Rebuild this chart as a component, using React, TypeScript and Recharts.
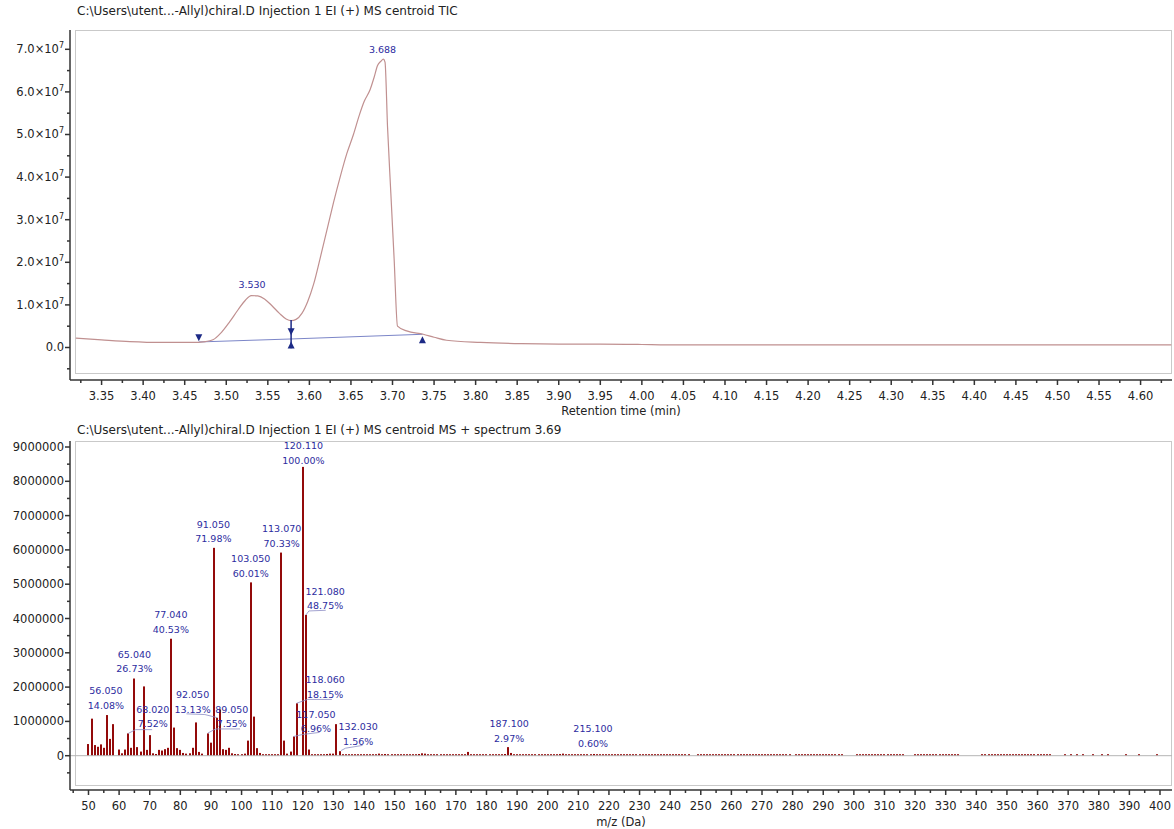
import React from 'react';
import { ComposedChart, Line, Bar, Scatter, XAxis, YAxis, ReferenceLine } from 'recharts';

const FONT = '"DejaVu Sans", Verdana, sans-serif';
const AXIS = '#333333';
const TEXT = '#222222';
const ANNOT = '#2c2ca0';
const TRACE = '#c09090';
const BAR = '#930a0a';

// ---- top panel: TIC trace ----
const ticTime = [
  3.319, 3.35, 3.384, 3.42, 3.458, 3.475, 3.484, 3.494, 3.504, 3.514,
  3.523, 3.53, 3.538, 3.546, 3.555, 3.564, 3.572, 3.578, 3.584, 3.591,
  3.598, 3.605, 3.613, 3.621, 3.629, 3.637, 3.645, 3.653, 3.66, 3.666,
  3.673, 3.678, 3.682, 3.686, 3.689, 3.691, 3.694, 3.698, 3.702, 3.706,
  3.717, 3.737, 3.75, 3.765, 3.806, 3.855, 3.9, 3.95, 4.0, 4.03,
  4.2, 4.4, 4.637,
];
const ticIntensity = [
  0.22e7, 0.18e7, 0.14e7, 0.12e7, 0.12e7, 0.14e7, 0.18e7, 0.35e7, 0.6e7, 0.88e7,
  1.11e7, 1.22e7, 1.21e7, 1.14e7, 0.98e7, 0.8e7, 0.67e7, 0.63e7, 0.66e7, 0.8e7,
  1.08e7, 1.48e7, 2.1e7, 2.75e7, 3.4e7, 4.0e7, 4.55e7, 5.0e7, 5.45e7, 5.78e7,
  6.05e7, 6.35e7, 6.62e7, 6.72e7, 6.77e7, 6.7e7, 5.19e7, 3.62e7, 2.06e7, 0.5e7,
  0.39e7, 0.31e7, 0.24e7, 0.17e7, 0.12e7, 0.09e7, 0.08e7, 0.08e7, 0.07e7, 0.06e7,
  0.06e7, 0.06e7, 0.06e7,
];

// integration baseline and its markers
const baseTime = [3.467, 3.578, 3.736];
const baseIntensity = [0.13e7, 0.2e7, 0.31e7];
const markTime = [3.467, 3.578, 3.578, 3.736];
const markLevel = [0.23e7, 0.37e7, 0.06e7, 0.18e7];
const markDir = ['down', 'down', 'up', 'up'];

const peakTime = [3.531, 3.688];
const peakLabelLevel = [1.47e7, 7.0e7];
const peakNames = ['3.530', '3.688'];

const ticYTicks = [0, 1e7, 2e7, 3e7, 4e7, 5e7, 6e7, 7e7];
const ticYLabels = ['0.0', '1.0', '2.0', '3.0', '4.0', '5.0', '6.0', '7.0'];
const ticXTicks = [
  3.35, 3.4, 3.45, 3.5, 3.55, 3.6, 3.65, 3.7, 3.75, 3.8, 3.85, 3.9, 3.95,
  4.0, 4.05, 4.1, 4.15, 4.2, 4.25, 4.3, 4.35, 4.4, 4.45, 4.5, 4.55, 4.6,
];
const ticXLabels = [
  '3.35', '3.40', '3.45', '3.50', '3.55', '3.60', '3.65', '3.70', '3.75', '3.80', '3.85', '3.90', '3.95',
  '4.00', '4.05', '4.10', '4.15', '4.20', '4.25', '4.30', '4.35', '4.40', '4.45', '4.50', '4.55', '4.60',
];

// ---- bottom panel: MS spectrum at 3.69 ----
const majorMz = [
  50, 51, 52, 53, 54, 55, 56, 57, 58,
  60, 61, 62, 63, 64, 65, 66, 67, 68, 69, 70,
  71, 72, 73, 74, 75, 76, 77, 78, 79, 80, 81, 82, 83, 84, 85, 86, 87,
  89, 90, 91, 92, 93, 94, 95, 96, 97, 98, 99, 100, 101, 102, 103, 104, 105,
  106, 107, 108, 109, 110, 111, 112, 113, 114, 115, 116, 117, 118,
  120, 121, 122, 123, 124, 125, 126, 127, 128, 129, 130, 131, 132, 133,
];
const majorIntensity = [
  340000, 1080000, 310000, 260000, 330000, 230000, 1185000, 490000, 920000,
  180000, 70000, 180000, 650000, 230000, 2250000, 250000, 120000, 2020000, 170000, 600000,
  70000, 50000, 170000, 150000, 190000, 230000, 3410000, 820000, 220000, 170000, 80000, 60000, 70000, 230000, 970000, 110000, 60000,
  650000, 380000, 6060000, 1106000, 1350000, 190000, 170000, 230000, 70000, 50000, 20000, 30000, 60000, 440000, 5053000, 1140000, 220000,
  80000, 30000, 10000, 10000, 10000, 10000, 10000, 5922000, 440000, 60000, 120000, 560000, 1528000,
  8420000, 4105000, 180000, 40000, 20000, 20000, 30000, 20000, 50000, 60000, 60000, 920000, 131000, 30000,
];
const tailMz = [
  134, 135, 136, 137, 138, 139, 140, 141, 142, 143,
  144, 145, 146, 147, 148, 149, 150, 151, 152, 153,
  154, 155, 156, 157, 158, 159, 160, 161, 162, 163,
  164, 165, 166, 167, 168, 169, 170, 171, 172, 173,
  174, 175, 176, 177, 178, 179, 180, 181, 182, 183,
  184, 185, 186, 187, 188, 189, 190, 191, 192, 193,
  194, 195, 196, 197, 198, 199, 200, 201, 202, 203,
  204, 205, 206, 207, 208, 209, 210, 211, 212, 213,
  214, 215, 216, 217, 218, 219, 220, 221, 222, 223,
  224, 225, 226, 227, 228, 229, 230, 231, 232, 233,
  234, 235, 236, 237, 238, 239, 240, 241, 242, 243,
  244, 245, 246, 249, 250, 251, 252, 253, 254, 255,
  256, 257, 258, 259, 260, 261, 262, 263, 264, 265,
  266, 267, 268, 269, 270, 271, 272, 273, 274, 275,
  276, 277, 278, 279, 281, 282, 283, 284, 285, 286,
  287, 288, 289, 290, 291, 292, 293, 294, 295, 296,
  301, 302, 303, 304, 305, 306, 307, 308, 309, 310,
  311, 312, 313, 314, 315, 316, 320, 321, 322, 323,
  324, 325, 326, 327, 328, 329, 330, 331, 332, 333,
  334, 342, 343, 344, 345, 346, 347, 348, 349, 350,
  351, 352, 353, 354, 355, 356, 357, 358, 359, 360,
  361, 362, 363, 364, 369, 371, 373, 375, 378, 381,
  383, 389, 393, 399,
];
// thousands of counts
const tailIntensityK = [
  25, 30, 20, 35, 25, 30, 20, 30, 25, 40,
  30, 60, 30, 50, 25, 30, 20, 30, 25, 30,
  20, 30, 25, 40, 50, 70, 60, 30, 25, 30,
  20, 35, 25, 30, 20, 30, 25, 30, 20, 25,
  110, 30, 20, 30, 25, 30, 20, 30, 25, 30,
  30, 40, 50, 250, 80, 35, 25, 30, 20, 30,
  25, 30, 20, 30, 25, 35, 20, 30, 25, 30,
  50, 60, 35, 25, 30, 25, 40, 20, 30, 25,
  30, 50, 25, 30, 20, 30, 25, 30, 20, 30,
  25, 30, 20, 35, 25, 30, 20, 30, 25, 30,
  20, 30, 25, 30, 20, 35, 25, 30, 20, 30,
  25, 30, 20, 25, 30, 20, 30, 25, 30, 20,
  30, 25, 30, 20, 30, 25, 30, 20, 30, 25,
  30, 20, 35, 25, 30, 20, 30, 25, 30, 20,
  30, 25, 30, 20, 35, 25, 30, 20, 30, 25,
  30, 20, 30, 25, 20, 30, 25, 30, 20, 25,
  25, 30, 20, 30, 25, 30, 20, 35, 25, 30,
  20, 30, 25, 30, 20, 25, 30, 25, 30, 20,
  30, 25, 30, 20, 30, 25, 30, 20, 30, 25,
  20, 30, 25, 30, 20, 30, 25, 30, 20, 30,
  25, 30, 20, 30, 25, 30, 20, 30, 25, 30,
  25, 30, 20, 25, 30, 25, 30, 20, 25, 30,
  25, 30, 20, 25,
];

// peak annotations: label centre (m/z, intensity) and texts
const specLabelMz = [120.2, 90.8, 113.1, 103.0, 127.3, 76.9, 65.0, 127.3, 55.7, 84.0, 71.0, 96.8, 124.3, 138.1, 187.4, 214.8];
const specLabelLevel = [9.03e6, 6.75e6, 6.61e6, 5.75e6, 4.8e6, 4.12e6, 2.96e6, 2.21e6, 1.89e6, 1.79e6, 1.36e6, 1.36e6, 1.21e6, 0.85e6, 0.94e6, 0.78e6];
const specLabelMass = ['120.110', '91.050', '113.070', '103.050', '121.080', '77.040', '65.040', '118.060', '56.050', '92.050', '68.020', '89.050', '117.050', '132.030', '187.100', '215.100'];
const specLabelPct = ['100.00%', '71.98%', '70.33%', '60.01%', '48.75%', '40.53%', '26.73%', '18.15%', '14.08%', '13.13%', '7.52%', '7.55%', '6.96%', '1.56%', '2.97%', '0.60%'];
const leaderPaths: [number, number][][] = [
  [[63, 0.65e6], [65.4, 0.76e6], [70.8, 0.76e6]],
  [[82, 1.22e6], [88, 1.2e6], [92, 1.11e6]],
  [[89, 0.66e6], [91.5, 0.78e6], [99.5, 0.78e6]],
  [[121, 4.1e6], [122, 4.22e6], [127.5, 4.24e6]],
  [[118, 1.53e6], [121.5, 1.64e6], [129.5, 1.64e6]],
  [[117, 0.56e6], [120, 0.62e6], [125.5, 0.68e6]],
  [[132.5, 0.15e6], [134, 0.22e6], [139.5, 0.3e6]],
];

const specYTicks = [0, 1e6, 2e6, 3e6, 4e6, 5e6, 6e6, 7e6, 8e6, 9e6];
const specYLabels = ['0', '1000000', '2000000', '3000000', '4000000', '5000000', '6000000', '7000000', '8000000', '9000000'];
const specXTicks = [50, 60, 70, 80, 90, 100, 110, 120, 130, 140, 150, 160, 170, 180, 190, 200, 210, 220, 230, 240, 250, 260, 270, 280, 290, 300, 310, 320, 330, 340, 350, 360, 370, 380, 390, 400];
const specXLabels = specXTicks.map(String);

// ---- helpers ----
const ticData = ticTime.map((t, i) => ({ t, v: ticIntensity[i] }));
const baseData = baseTime.map((t, i) => ({ t, v: baseIntensity[i] }));
const markData = markTime.map((t, i) => ({ t, v: markLevel[i], dir: markDir[i] }));
const peakData = peakTime.map((t, i) => ({ t, v: peakLabelLevel[i], name: peakNames[i] }));

const specData = [
  ...majorMz.map((mz, i) => ({ mz, intensity: majorIntensity[i] })),
  ...tailMz.map((mz, i) => ({ mz, intensity: tailIntensityK[i] * 1000 })),
];
const specLabelData = specLabelMz.map((mz, i) => ({ mz, y: specLabelLevel[i], mass: specLabelMass[i], pct: specLabelPct[i] }));

function withMinors(majors: number[], lo: number, hi: number) {
  const step = majors[1] - majors[0];
  const out: number[] = [];
  majors.forEach((m) => {
    out.push(m - step / 2, m);
  });
  out.push(majors[majors.length - 1] + step / 2);
  return out.filter((v) => v >= lo && v <= hi);
}

const findMajor = (majors: number[], v: number) => majors.findIndex((m) => Math.abs(m - v) < 1e-6);

const makeXTick = (majors: number[], labels: string[]) => (props: any) => {
  const { x, y, payload } = props;
  const i = findMajor(majors, payload.value);
  return (
    <g>
      <line x1={x} x2={x} y1={y} y2={y + (i >= 0 ? 5 : 3)} stroke={AXIS} strokeWidth={1.5} />
      {i >= 0 && (
        <text x={x} y={y + 20} textAnchor="middle" fontSize={11.5} fontFamily={FONT} fill={TEXT}>
          {labels[i]}
        </text>
      )}
    </g>
  );
};

const makeYTick = (majors: number[], labels: string[], exp?: string) => (props: any) => {
  const { x, y, payload } = props;
  const i = findMajor(majors, payload.value);
  const sup = exp && payload.value !== 0;
  return (
    <g>
      <line x1={x - (i >= 0 ? 5 : 3)} x2={x} y1={y} y2={y} stroke={AXIS} strokeWidth={1.5} />
      {i >= 0 && (
        <text x={x - 6} y={y + 4} textAnchor="end" fontSize={11.5} fontFamily={FONT} fill={TEXT}>
          {labels[i]}
          {sup ? '\u00d710' : ''}
          {sup ? <tspan dy={-5} fontSize={8}>{exp}</tspan> : null}
        </text>
      )}
    </g>
  );
};

const Marker = (props: any) => {
  const { cx, cy, payload } = props;
  const d =
    payload.dir === 'down'
      ? `M${cx - 3.5},${cy - 3.5}L${cx + 3.5},${cy - 3.5}L${cx},${cy + 3.5}Z`
      : `M${cx - 3.5},${cy + 3.5}L${cx + 3.5},${cy + 3.5}L${cx},${cy - 3.5}Z`;
  return <path d={d} fill="#1c2a86" />;
};

const PeakName = (props: any) => (
  <text x={props.cx} y={props.cy + 3.5} textAnchor="middle" fontSize={9.5} fontFamily={FONT} fill={ANNOT}>
    {props.payload.name}
  </text>
);

const SpecLabel = (props: any) => (
  <g>
    <text x={props.cx} y={props.cy + 3.5} textAnchor="middle" fontSize={9.5} fontFamily={FONT} fill={ANNOT}>
      {props.payload.mass}
    </text>
    <text x={props.cx} y={props.cy + 18.2} textAnchor="middle" fontSize={9.5} fontFamily={FONT} fill={ANNOT}>
      {props.payload.pct}
    </text>
  </g>
);

// solid 2px stick centred on the m/z position; tiny sticks kept at least 1.5px tall
const Stick = (props: any) => {
  const { x, y, width, height } = props;
  if (!height || height <= 0) return <g />;
  const h = Math.max(height, 1.5);
  return <rect x={Math.round(x + width / 2 - 1)} y={y + height - h} width={2} height={h} fill={BAR} />;
};

const TIC_X: [number, number] = [3.312, 4.6378];
const TIC_Y: [number, number] = [-0.763e7, 7.453e7];
const MS_X: [number, number] = [43.96, 403.92];
const MS_Y: [number, number] = [-1.0e6, 9.175e6];

const textStyle = (left: number, top: number, size: number, center = false): React.CSSProperties => ({
  position: 'absolute',
  left,
  top,
  fontFamily: FONT,
  fontSize: size,
  lineHeight: '14px',
  color: TEXT,
  whiteSpace: 'nowrap',
  transform: center ? 'translateX(-50%)' : undefined,
});

const frameStyle = (top: number, height: number): React.CSSProperties => ({
  position: 'absolute',
  left: 75,
  top,
  width: 1097,
  height,
  border: '1px solid #c9c9c9',
  boxSizing: 'border-box',
  pointerEvents: 'none',
});

export default function App() {
  return (
    <div style={{ position: 'absolute', left: 0, top: 0, width: 1174, height: 829, background: '#fff', overflow: 'hidden' }}>
      <div style={frameStyle(30, 344)} />
      <div style={frameStyle(441, 345)} />

      <div style={{ position: 'absolute', left: 0, top: 0 }}>
        <ComposedChart width={1174} height={420} margin={{ top: 30, right: 2, bottom: 10, left: 8 }}>
          <XAxis
            type="number"
            dataKey="t"
            domain={TIC_X}
            allowDataOverflow
            ticks={withMinors(ticXTicks, TIC_X[0], TIC_X[1])}
            interval={0}
            tickSize={0}
            tickMargin={0}
            tickLine={false}
            tick={makeXTick(ticXTicks, ticXLabels)}
            axisLine={{ stroke: AXIS, strokeWidth: 1.5 }}
            height={30}
          />
          <YAxis
            type="number"
            domain={TIC_Y}
            allowDataOverflow
            ticks={withMinors(ticYTicks, TIC_Y[0], TIC_Y[1])}
            interval={0}
            tickSize={0}
            tickMargin={0}
            tickLine={false}
            tick={makeYTick(ticYTicks, ticYLabels, '7')}
            axisLine={{ stroke: AXIS, strokeWidth: 1.5 }}
            width={62}
          />
          <Line data={baseData} dataKey="v" type="linear" stroke="#7c86c8" strokeWidth={1} dot={false} isAnimationActive={false} />
          <Line data={ticData} dataKey="v" type="monotone" stroke={TRACE} strokeWidth={1.2} dot={false} isAnimationActive={false} />
          <ReferenceLine
            segment={[{ x: 3.578, y: 0.645e7 }, { x: 3.578, y: -0.02e7 }]}
            stroke="#1c2a86"
            strokeWidth={1.5}
          />
          <Scatter data={markData} dataKey="v" shape={Marker} isAnimationActive={false} />
          <Scatter data={peakData} dataKey="v" shape={PeakName} isAnimationActive={false} />
        </ComposedChart>
      </div>

      <div style={{ position: 'absolute', left: 0, top: 420 }}>
        <ComposedChart width={1174} height={409} data={specData} margin={{ top: 21, right: 2, bottom: 9, left: 8 }}>
          <XAxis
            type="number"
            dataKey="mz"
            domain={MS_X}
            allowDataOverflow
            ticks={withMinors(specXTicks, MS_X[0], MS_X[1])}
            interval={0}
            tickSize={0}
            tickMargin={0}
            tickLine={false}
            tick={makeXTick(specXTicks, specXLabels)}
            axisLine={{ stroke: AXIS, strokeWidth: 1.5 }}
            height={30}
          />
          <YAxis
            type="number"
            domain={MS_Y}
            allowDataOverflow
            ticks={withMinors(specYTicks, MS_Y[0], MS_Y[1])}
            interval={0}
            tickSize={0}
            tickMargin={0}
            tickLine={false}
            tick={makeYTick(specYTicks, specYLabels)}
            axisLine={{ stroke: AXIS, strokeWidth: 1.5 }}
            width={62}
          />
          <ReferenceLine y={0} stroke="#b4b4b4" strokeWidth={1} />
          {leaderPaths.map((path, p) =>
            path.slice(1).map((pt, k) => (
              <ReferenceLine
                key={`ld-${p}-${k}`}
                segment={[{ x: path[k][0], y: path[k][1] }, { x: pt[0], y: pt[1] }]}
                stroke="#8c8cc4"
                strokeWidth={0.8}
              />
            ))
          )}
          <Scatter data={specLabelData} dataKey="y" shape={SpecLabel} isAnimationActive={false} />
          <Bar dataKey="intensity" fill={BAR} barSize={2} shape={Stick} isAnimationActive={false} />
        </ComposedChart>
      </div>

      <div style={textStyle(77, 4, 12)}>C:\Users\utent...-Allyl)chiral.D Injection 1 EI (+) MS centroid TIC</div>
      <div style={textStyle(621, 404, 11.5, true)}>Retention time (min)</div>
      <div style={textStyle(77, 423, 12)}>C:\Users\utent...-Allyl)chiral.D Injection 1 EI (+) MS centroid MS + spectrum 3.69</div>
      <div style={textStyle(621, 815, 11.5, true)}>m/z (Da)</div>
    </div>
  );
}
